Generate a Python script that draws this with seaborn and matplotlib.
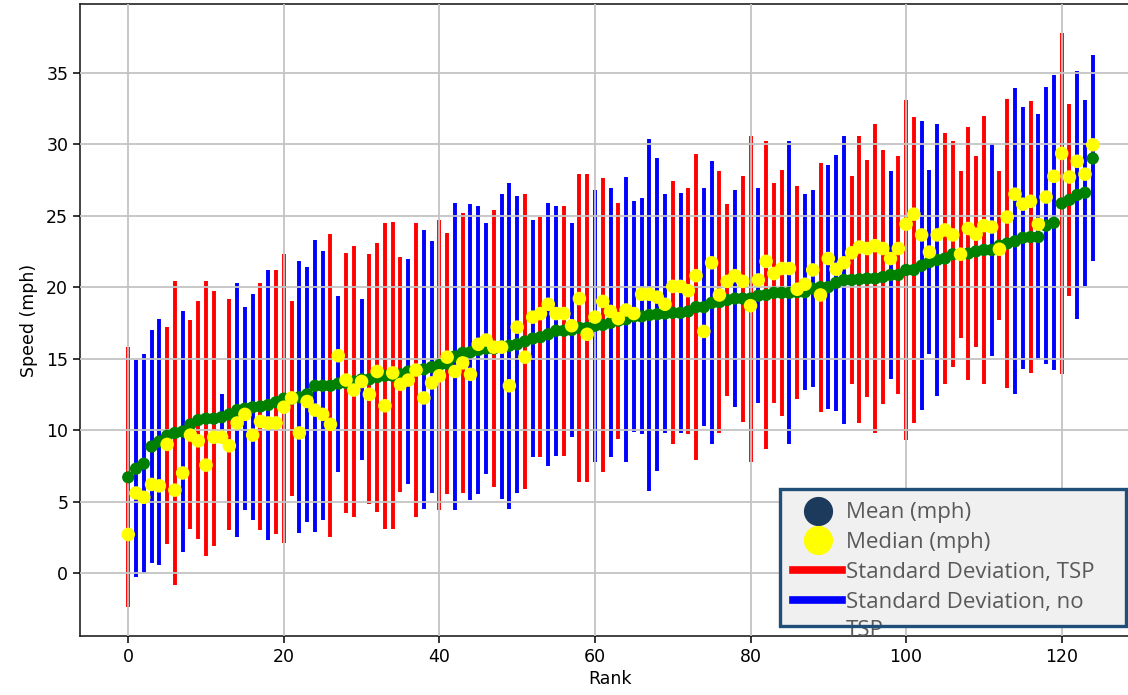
import numpy as np
import pandas as pd
import matplotlib
matplotlib.use("Agg")
import matplotlib.pyplot as plt
from matplotlib.lines import Line2D
from matplotlib.patches import Rectangle
import seaborn as sns

# ---------------- data ----------------
mean_mph = [
    6.7, 7.3, 7.65, 8.85, 9.2, 9.6, 9.8, 9.9, 10.4, 10.7, 10.8, 10.8, 10.9, 11.1, 11.4, 11.5,
    11.6, 11.65, 11.75, 11.95, 12.2, 12.2, 12.3, 12.5, 13.1, 13.1, 13.1, 13.25, 13.3, 13.4, 13.55, 13.55,
    13.7, 13.8, 13.8, 13.9, 14.1, 14.2, 14.25, 14.4, 14.55, 14.65, 15.15, 15.4, 15.45, 15.6, 15.7, 15.7,
    15.85, 15.9, 16.0, 16.2, 16.4, 16.5, 16.7, 16.95, 16.95, 17.0, 17.15, 17.15, 17.3, 17.35, 17.5, 17.65,
    17.75, 17.95, 17.95, 18.05, 18.1, 18.15, 18.2, 18.2, 18.3, 18.6, 18.6, 18.9, 18.95, 19.1, 19.2, 19.2,
    19.2, 19.4, 19.45, 19.6, 19.6, 19.6, 19.65, 19.65, 19.9, 20.0, 20.0, 20.3, 20.5, 20.5, 20.55, 20.6,
    20.6, 20.7, 20.85, 20.85, 21.2, 21.2, 21.5, 21.75, 21.9, 22.0, 22.3, 22.3, 22.35, 22.5, 22.6, 22.6,
    22.9, 23.05, 23.2, 23.45, 23.5, 23.5, 24.3, 24.5, 25.85, 26.1, 26.45, 26.6, 29.0,
]
median_mph = [
    2.7, 5.6, 5.3, 6.2, 6.1, 9.0, 5.8, 7.0, 9.65, 9.25, 7.55, 9.5, 9.5, 8.9, 10.5, 11.1,
    9.65, 10.6, 10.5, 10.5, 11.6, 12.25, 9.8, 12.0, 11.4, 11.1, 10.4, 15.2, 13.5, 12.8, 13.4, 12.5,
    14.1, 11.7, 14.0, 13.2, 13.5, 14.2, 12.25, 13.3, 13.8, 15.1, 14.1, 14.7, 13.9, 16.0, 16.3, 15.8,
    15.8, 13.1, 17.2, 15.1, 17.9, 18.15, 18.8, 18.15, 18.15, 17.3, 19.2, 16.7, 17.9, 19.0, 18.3, 17.8,
    18.4, 18.15, 19.5, 19.5, 19.3, 18.8, 20.05, 20.05, 19.75, 20.8, 16.9, 21.7, 19.45, 20.4, 20.8, 20.4,
    18.7, 20.5, 21.8, 20.95, 21.3, 21.3, 19.85, 20.2, 21.2, 19.45, 22.0, 21.25, 21.7, 22.4, 22.8, 22.7,
    22.9, 22.7, 22.0, 22.7, 24.4, 25.1, 23.65, 22.45, 23.65, 24.0, 23.65, 22.3, 24.1, 23.7, 24.3, 24.2,
    22.65, 24.9, 26.5, 25.8, 26.0, 24.4, 26.3, 27.75, 29.35, 27.7, 28.8, 27.9, 29.95,
]
std_mph = [
    9.1, 7.6, 7.65, 8.15, 8.6, 7.6, 10.6, 8.4, 7.3, 8.3, 9.6, 8.9, 1.6, 8.1, 8.9, 7.1,
    7.9, 8.65, 9.45, 9.25, 10.1, 6.8, 9.5, 8.9, 10.2, 9.4, 10.6, 6.15, 9.1, 9.5, 5.65, 8.75,
    9.4, 10.7, 10.75, 8.2, 7.9, 10.3, 9.75, 8.8, 10.15, 9.15, 10.75, 9.8, 10.35, 10.1, 8.8, 9.7,
    10.65, 11.4, 10.4, 10.3, 8.3, 8.4, 9.2, 8.75, 8.75, 7.5, 10.75, 10.75, 9.5, 10.25, 9.4, 8.25,
    9.95, 8.1, 8.25, 12.3, 10.95, 8.35, 9.2, 8.4, 8.6, 10.7, 8.3, 9.9, 9.15, 6.7, 7.6, 8.6,
    11.4, 7.5, 10.75, 7.7, 8.6, 10.6, 7.45, 6.85, 6.9, 8.7, 8.55, 8.95, 10.1, 7.3, 10.05, 8.3,
    10.8, 8.9, 7.25, 8.35, 11.9, 10.7, 10.1, 6.45, 9.5, 8.8, 7.9, 5.85, 8.85, 6.7, 9.4, 7.4,
    5.2, 10.1, 10.7, 9.15, 9.5, 8.6, 9.7, 10.3, 11.95, 6.7, 8.65, 6.5, 7.2,
]
# T = corridor with TSP (red), N = no TSP (blue)
tsp_code = (
    "TNNNNTTNTTTTNTNN"
    "NTNTTTNNNNTNTTNT"
    "TTTTNTNNTTNTNNNT"
    "NNNTNTNNTNTTNTNT"
    "NNNNNNTNTTNNTTNT"
    "TNTTTNTNNTNNNTTT"
    "TTNTTTNNNTTTTTTN"
    "TTNNTNNNTTNNN"
)
x_ticks = [0, 20, 40, 60, 80, 100, 120]
y_ticks = [0, 5, 10, 15, 20, 25, 30, 35]
legend_labels = ["Mean (mph)", "Median (mph)", "Standard Deviation, TSP", "Standard Deviation, no"]

df = pd.DataFrame({
    "rank": np.arange(len(mean_mph)),
    "mean": mean_mph,
    "median": median_mph,
    "std": std_mph,
    "tsp": list(tsp_code),
})
df["low"] = df["mean"] - df["std"]
df["high"] = df["mean"] + df["std"]

# ---------------- figure ----------------
plt.rcParams["font.family"] = ["DejaVu Sans"]
W, H = 1128, 695
fig = plt.figure(figsize=(W / 100, H / 100), dpi=100)
ax = fig.add_axes([80 / W, 59 / H, 1061 / W, 632 / H])

colors = {"T": "#ff0000", "N": "#0000ff"}
for code, sub in df.groupby("tsp"):
    ax.vlines(sub["rank"], sub["low"], sub["high"], colors=colors[code], lw=2.8, zorder=2)

sns.scatterplot(data=df, x="rank", y="mean", color="#008000", s=78, edgecolor="none",
                ax=ax, zorder=3, legend=False)
sns.scatterplot(data=df, x="rank", y="median", color="#ffff00", s=95, edgecolor="none",
                ax=ax, zorder=4, legend=False)

ax.set_xlim(-6.2, 130.2)
ax.set_ylim(-4.4, 39.8)
ax.set_xticks(x_ticks)
ax.set_yticks(y_ticks)
ax.tick_params(labelsize=12.5, length=5, width=1.1)
ax.set_xlabel("Rank", fontsize=12.5, labelpad=3)
ax.set_ylabel("Speed (mph)", fontsize=12.5, labelpad=6)
ax.set_axisbelow(False)
ax.grid(True, color="#c4c4c4", lw=1.3)
for s in ax.spines.values():
    s.set_linewidth(1.2)
    s.set_color("#222222")

# ---------------- legend ----------------
handles = [
    Line2D([], [], marker="o", ls="none", markersize=21, markerfacecolor="#1b3a5c",
           markeredgecolor="none"),
    Line2D([], [], marker="o", ls="none", markersize=21, markerfacecolor="#ffff00",
           markeredgecolor="none"),
    Line2D([], [], color="#ff0000", lw=5.5),
    Line2D([], [], color="#0000ff", lw=5.5),
]
leg_x0, leg_x1, leg_top = 780, 1126, 489
leg = fig.legend(handles, legend_labels, loc="upper left", mode="expand",
                 bbox_to_anchor=(leg_x0 / W, 1 - leg_top / H, (leg_x1 - leg_x0) / W, 0),
                 bbox_transform=fig.transFigure,
                 frameon=True, fancybox=False, framealpha=1, facecolor="#f0f0f0",
                 edgecolor="none", prop={"family": "Open Sans", "size": 16},
                 labelcolor="#595959", handlelength=2.2, handletextpad=0.15,
                 labelspacing=0.4, borderpad=0.6, borderaxespad=0)

fig.canvas.draw()
r = fig.canvas.get_renderer()
fb = leg.get_frame().get_window_extent(r)
t3 = leg.get_texts()[3].get_window_extent(r)
t2 = leg.get_texts()[2].get_window_extent(r)
step = t2.y0 - t3.y0
fig.text(t3.x0 / W, (t3.y0 - step * 0.95) / H, "TSP", color="#595959",
         fontfamily="Open Sans", fontsize=16, ha="left", va="bottom", zorder=6)
fig.patches.append(Rectangle((fb.x0, fb.y0), fb.width, fb.height, transform=None,
                             fill=False, edgecolor="#1f4e79", lw=2.4, zorder=7))

fig.savefig("out.png", dpi=100)
